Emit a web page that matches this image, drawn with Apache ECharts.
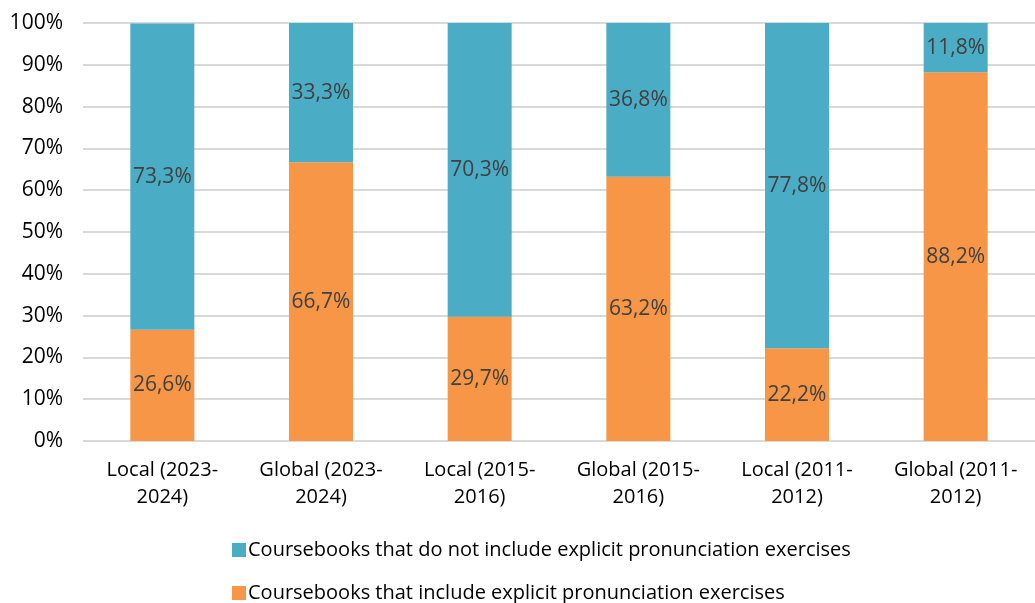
<!DOCTYPE html>
<html>
<head>
<meta charset="utf-8">
<script src="https://cdn.jsdelivr.net/npm/echarts@6/dist/echarts.min.js"></script>
<style>
html, body { margin: 0; padding: 0; background: #fff; }
#chart { width: 1035px; height: 603px; }
</style>
</head>
<body>
<div id="chart"></div>
<script>
// Coursebook groups and shares of each kind (percent)
const categories = [
  'Local (2023-\n2024)', 'Global (2023-\n2024)',
  'Local (2015-\n2016)', 'Global (2015-\n2016)',
  'Local (2011-\n2012)', 'Global (2011-\n2012)'
];
const includeName = 'Coursebooks that include explicit pronunciation exercises';
const excludeName = 'Coursebooks that do not include explicit pronunciation exercises';
const includeValues = [26.6, 66.7, 29.7, 63.2, 22.2, 88.2];
const excludeValues = [73.3, 33.3, 70.3, 36.8, 77.8, 11.8];
const yTicks = [0, 10, 20, 30, 40, 50, 60, 70, 80, 90, 100];

const FONT = 'Open Sans';
const fmt = v => v.toFixed(1).replace('.', ',') + '%';

const legendBase = {
  left: 227,
  itemWidth: 14,
  itemHeight: 14,
  icon: 'rect',
  textStyle: { fontFamily: FONT, fontSize: 20, color: '#000', padding: [0, 0, 0, -3] }
};

const chart = echarts.init(document.getElementById('chart'));
chart.setOption({
  animation: false,
  textStyle: { fontFamily: FONT },
  grid: { left: 83, right: 0, top: 23, bottom: 162, containLabel: false },
  legend: [
    Object.assign({ top: 535, data: [excludeName] }, legendBase),
    Object.assign({ top: 578, data: [includeName] }, legendBase)
  ],
  xAxis: {
    type: 'category',
    data: categories,
    axisLine: { show: false },
    axisTick: { show: false },
    axisLabel: {
      fontFamily: FONT, fontSize: 20, color: '#000',
      lineHeight: 27, margin: 16, interval: 0
    }
  },
  yAxis: {
    type: 'value',
    min: yTicks[0],
    max: yTicks[yTicks.length - 1],
    interval: 10,
    axisLine: { show: false },
    axisTick: { show: false },
    axisLabel: {
      fontFamily: FONT, fontSize: 21, color: '#000', margin: 20,
      formatter: v => v + '%'
    },
    splitLine: { lineStyle: { color: '#d9d9d9', width: 2 } }
  },
  series: [
    {
      name: includeName,
      type: 'bar',
      stack: 'total',
      data: includeValues,
      barWidth: 64,
      itemStyle: { color: '#F79646' },
      label: {
        show: true, position: 'inside', formatter: p => fmt(p.value),
        fontFamily: FONT, fontSize: 21, color: '#404040'
      }
    },
    {
      name: excludeName,
      type: 'bar',
      stack: 'total',
      data: excludeValues,
      barWidth: 64,
      itemStyle: { color: '#4BACC6' },
      label: {
        show: true, position: 'inside', formatter: p => fmt(p.value),
        fontFamily: FONT, fontSize: 21, color: '#404040'
      }
    }
  ]
});
</script>
</body>
</html>
